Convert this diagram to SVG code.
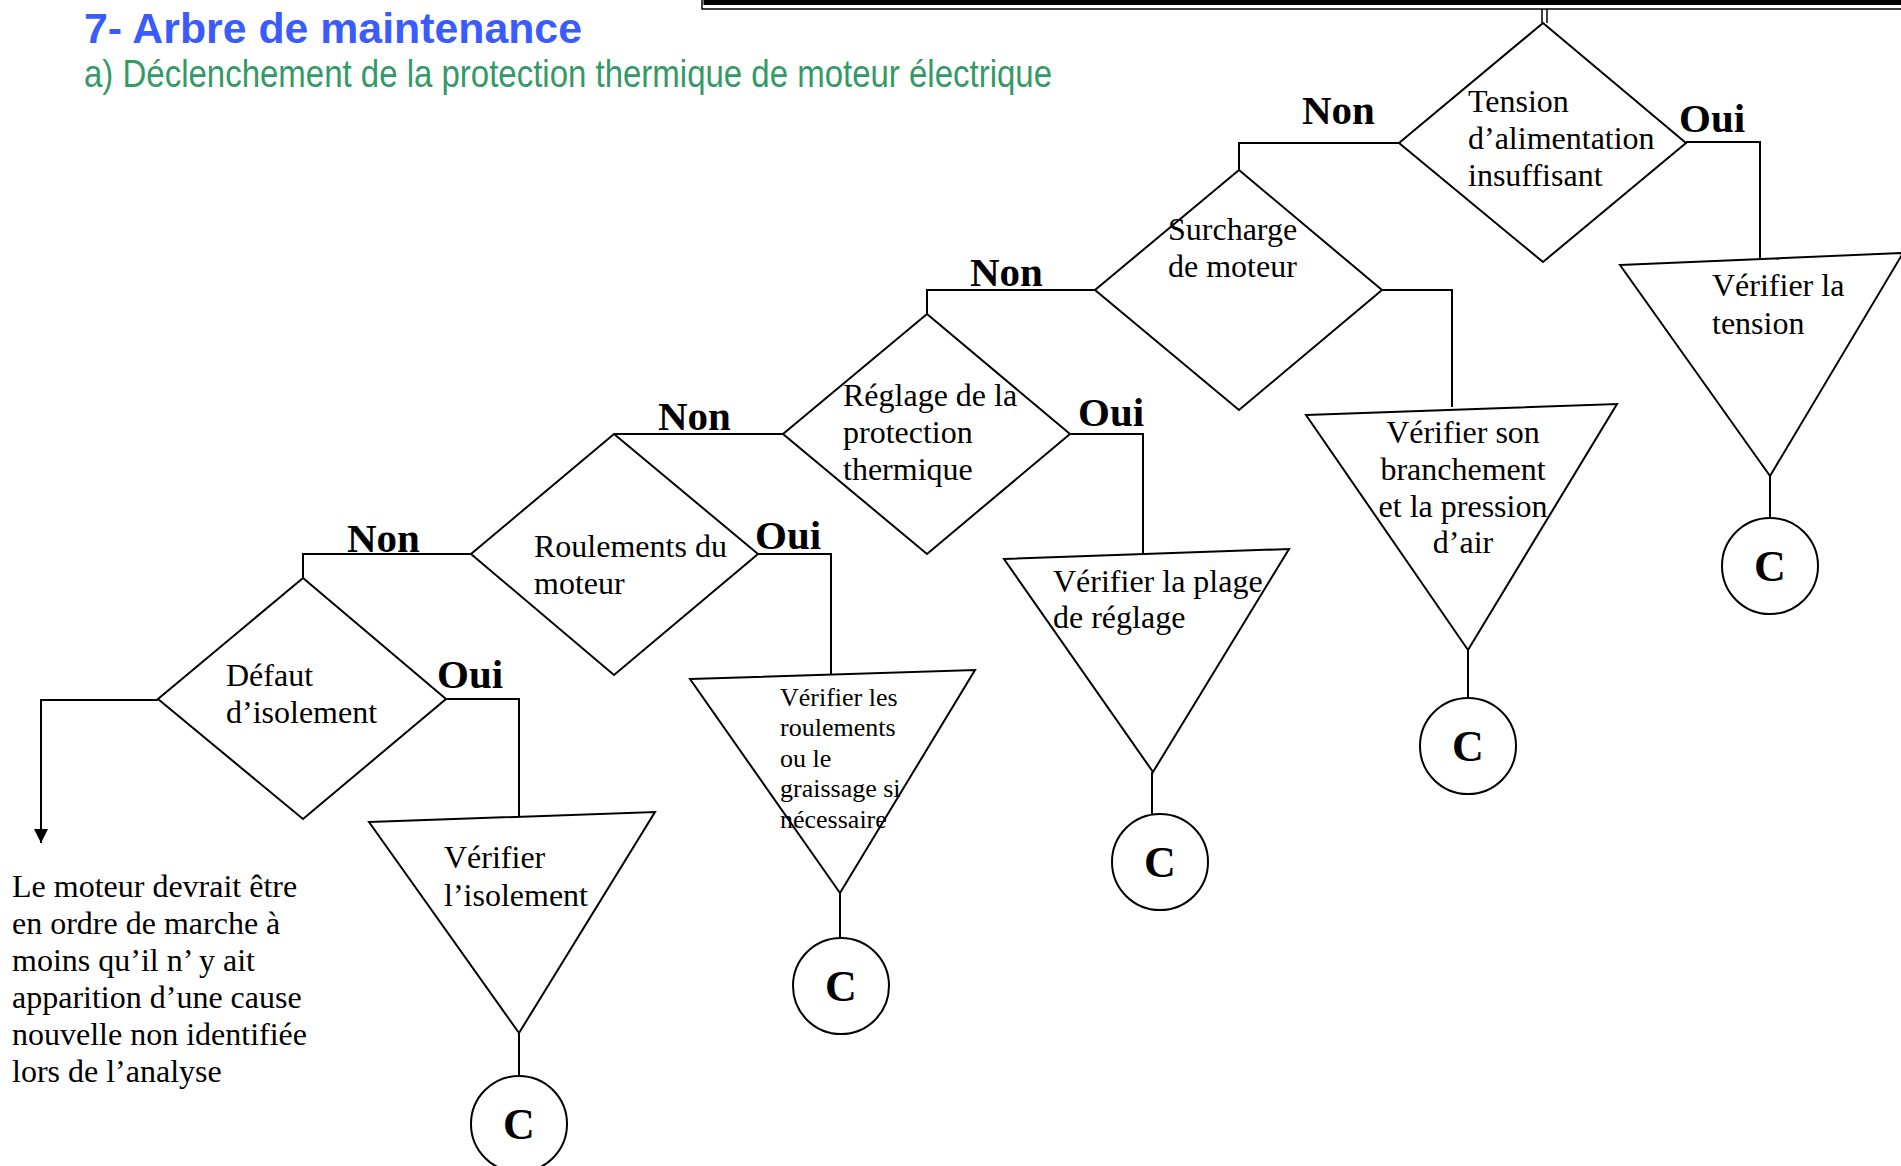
<svg xmlns="http://www.w3.org/2000/svg" width="1901" height="1166" viewBox="0 0 1901 1166">
<style>
.shape{fill:#fff;stroke:#000;stroke-width:2}
.line{fill:none;stroke:#000;stroke-width:2}
.t{font-family:"Liberation Serif","Times New Roman",serif;font-size:32px;fill:#000}
.ts{font-family:"Liberation Serif","Times New Roman",serif;font-size:26px;fill:#000}
.lbl{font-family:"Liberation Serif","Times New Roman",serif;font-size:41px;font-weight:bold;fill:#000}
.c{font-family:"Liberation Serif","Times New Roman",serif;font-size:44px;font-weight:bold;fill:#000;text-anchor:middle}
</style>
<defs>
<marker id="arr" viewBox="0 0 14 14" refX="14" refY="7" markerWidth="14" markerHeight="14" markerUnits="userSpaceOnUse" orient="auto">
<path d="M0,0 L14,7 L0,14 Z" fill="#000"/>
</marker>
</defs>
<rect width="1901" height="1166" fill="#fff"/>
<g id="title">
<text x="84" y="43" font-family="Liberation Sans, Arial, sans-serif" font-size="42" font-weight="bold" fill="#3a5cff" textLength="498" lengthAdjust="spacingAndGlyphs">7- Arbre de maintenance</text>
<text x="84" y="87" font-family="Liberation Sans, Arial, sans-serif" font-size="38" fill="#339966" textLength="968" lengthAdjust="spacingAndGlyphs">a) Déclenchement de la protection thermique de moteur électrique</text>
</g>
<g id="top-box">
<path d="M706,-10 V2.5 H1911" fill="none" stroke="#000" stroke-width="5"/>
<path d="M702,-10 V9 H1911" fill="none" stroke="#000" stroke-width="1.5"/>
</g>
<g id="connectors">
<path d="M1542,9 V23 M1547,9 V23" fill="none" stroke="#000" stroke-width="1.5"/>
<path class="line" d="M1399,143 H1239 V170"/>
<path class="line" d="M1686,142 H1760 V260"/>
<path class="line" d="M1770,476 V518"/>
<path class="line" d="M1382,290 H1452 V407"/>
<path class="line" d="M1468,650 V698"/>
<path class="line" d="M1095,290 H927 V314"/>
<path class="line" d="M1070,434 H1143 V554"/>
<path class="line" d="M1152,772 V815"/>
<path class="line" d="M783,434 H614"/>
<path class="line" d="M758,554 H831 V674"/>
<path class="line" d="M840,893 V938"/>
<path class="line" d="M471,554 H303 V578"/>
<path class="line" d="M446,699 H519 V817"/>
<path class="line" d="M519,1033 V1076"/>
<path class="line" d="M158,700 H41 V843" marker-end="url(#arr)"/>
<text class="lbl" x="1302" y="124">Non</text>
<text class="lbl" x="1679" y="132">Oui</text>
<text class="lbl" x="970" y="286">Non</text>
<text class="lbl" x="1078" y="426">Oui</text>
<text class="lbl" x="658" y="430">Non</text>
<text class="lbl" x="755" y="549">Oui</text>
<text class="lbl" x="347" y="552">Non</text>
<text class="lbl" x="437" y="688">Oui</text>
</g>
<g id="tension">
<polygon class="shape" points="1543,23 1686,143 1543,262 1399,143"/>
<text class="t" x="1468" y="112">Tension</text>
<text class="t" x="1468" y="149">d’alimentation</text>
<text class="t" x="1468" y="186">insuffisant</text>
</g>
<g id="verifier-tension">
<polygon class="shape" points="1620,265 1903,253 1770,476"/>
<text class="t" x="1712" y="296">Vérifier la</text>
<text class="t" x="1712" y="334">tension</text>
</g>
<g id="c1">
<circle class="shape" cx="1770" cy="566" r="48"/>
<text class="c" x="1770" y="581">C</text>
</g>
<g id="surcharge">
<polygon class="shape" points="1239,170 1382,290 1239,410 1095,290"/>
<text class="t" x="1168" y="240">Surcharge</text>
<text class="t" x="1168" y="277">de moteur</text>
</g>
<g id="verifier-branchement">
<polygon class="shape" points="1306,415 1617,404 1468,650"/>
<text class="t" x="1463" y="443" text-anchor="middle">Vérifier son</text>
<text class="t" x="1463" y="480" text-anchor="middle">branchement</text>
<text class="t" x="1463" y="517" text-anchor="middle">et la pression</text>
<text class="t" x="1463" y="553" text-anchor="middle">d’air</text>
</g>
<g id="c2">
<circle class="shape" cx="1468" cy="746" r="48"/>
<text class="c" x="1468" y="761">C</text>
</g>
<g id="reglage">
<polygon class="shape" points="927,314 1070,434 927,554 783,434"/>
<text class="t" x="843" y="406">Réglage de la</text>
<text class="t" x="843" y="443">protection</text>
<text class="t" x="843" y="480">thermique</text>
</g>
<g id="verifier-plage">
<polygon class="shape" points="1004,559 1289,549 1153,772"/>
<text class="t" x="1053" y="592">Vérifier la plage</text>
<text class="t" x="1053" y="628">de réglage</text>
</g>
<g id="c3">
<circle class="shape" cx="1160" cy="862" r="48"/>
<text class="c" x="1160" y="877">C</text>
</g>
<g id="roulements">
<polygon class="shape" points="614,434 758,554 614,675 471,554"/>
<text class="t" x="534" y="557">Roulements du</text>
<text class="t" x="534" y="594">moteur</text>
</g>
<g id="verifier-roulements">
<polygon class="shape" points="690,679 975,670 840,893"/>
<text class="ts" x="780" y="706">Vérifier les</text>
<text class="ts" x="780" y="736">roulements</text>
<text class="ts" x="780" y="767">ou le</text>
<text class="ts" x="780" y="797">graissage si</text>
<text class="ts" x="780" y="828">nécessaire</text>
</g>
<g id="c4">
<circle class="shape" cx="841" cy="986" r="48"/>
<text class="c" x="841" y="1001">C</text>
</g>
<g id="defaut">
<polygon class="shape" points="303,578 446,699 303,819 158,699"/>
<text class="t" x="226" y="686">Défaut</text>
<text class="t" x="226" y="723">d’isolement</text>
</g>
<g id="verifier-isolement">
<polygon class="shape" points="369,822 655,812 519,1033"/>
<text class="t" x="444" y="868">Vérifier</text>
<text class="t" x="444" y="906">l’isolement</text>
</g>
<g id="c5">
<circle class="shape" cx="519" cy="1124" r="48"/>
<text class="c" x="519" y="1139">C</text>
</g>
<g id="conclusion">
<text class="t" x="12" y="897">Le moteur devrait être</text>
<text class="t" x="12" y="934">en ordre de marche à</text>
<text class="t" x="12" y="971">moins qu’il n’ y ait</text>
<text class="t" x="12" y="1008">apparition d’une cause</text>
<text class="t" x="12" y="1045">nouvelle non identifiée</text>
<text class="t" x="12" y="1082">lors de l’analyse</text>
</g>
</svg>
